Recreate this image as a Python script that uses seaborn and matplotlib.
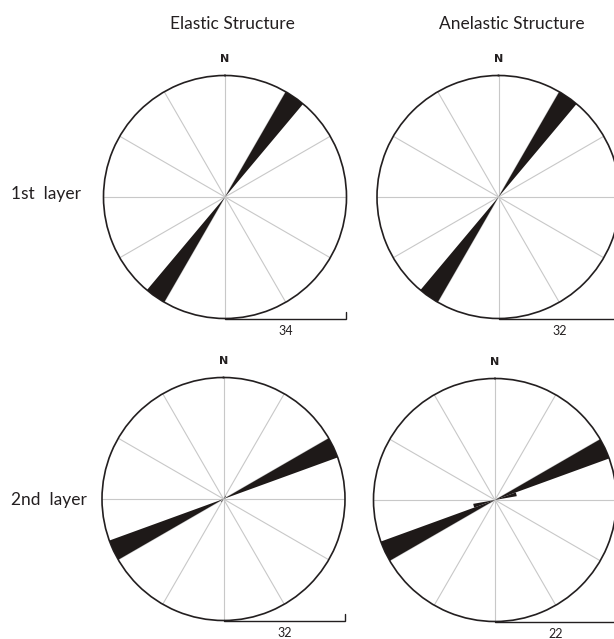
import numpy as np
import pandas as pd
import matplotlib
matplotlib.use("Agg")
import matplotlib.pyplot as plt
import seaborn as sns

# Strike bins (lower edge, degrees, 10 deg wide) over half a circle;
# the rose is bidirectional, so each bin is mirrored through the centre.
bin_start = [0, 10, 20, 30, 40, 50, 60, 70, 80, 90, 100, 110, 120, 130, 140, 150, 160, 170]

elastic_layer1 = [0, 0, 0, 34, 0, 0, 0, 0, 0, 0, 0, 0, 0, 0, 0, 0, 0, 0]
anelastic_layer1 = [0, 0, 0, 32, 0, 0, 0, 0, 0, 0, 0, 0, 0, 0, 0, 0, 0, 0]
elastic_layer2 = [0, 0, 0, 1, 0, 0, 32, 0, 0, 0, 0, 0, 0, 0, 0, 0, 0, 0]
anelastic_layer2 = [0, 0, 0, 0, 0, 0, 22, 4, 0, 0, 0, 0, 0, 0, 0, 0, 0, 0]

structures = ["Elastic Structure", "Anelastic Structure"]
layers = ["1st  layer", "2nd  layer"]

panels = {
    (layers[0], structures[0]): elastic_layer1,
    (layers[0], structures[1]): anelastic_layer1,
    (layers[1], structures[0]): elastic_layer2,
    (layers[1], structures[1]): anelastic_layer2,
}

rows = []
for (layer, structure), counts in panels.items():
    for start, n in zip(bin_start, counts):
        for strike in (start, start + 180):
            rows.append({"layer": layer, "structure": structure,
                         "strike": strike, "count": n})
df = pd.DataFrame(rows)

WEDGE = "#1e1918"
INK = "#231f20"
SPOKE = "#c8c8c8"

sns.set_style("white")
plt.rcParams["font.family"] = ["Lato", "DejaVu Sans"]


def rose(data, **kws):
    ax = plt.gca()
    ax.set_theta_zero_location("N")
    ax.set_theta_direction(-1)
    ax.set_axisbelow(True)
    ax.bar(np.deg2rad(data["strike"].to_numpy()), data["count"].to_numpy(),
           width=np.deg2rad(10), align="edge", color=WEDGE,
           edgecolor="none", linewidth=0, zorder=3)
    rmax = data["count"].max()
    ax.set_ylim(0, rmax)
    ax.set_yticks([])
    ax.set_xticks(np.deg2rad(np.arange(0, 360, 30)))
    ax.set_xticklabels([])
    ax.grid(axis="x", color=SPOKE, linewidth=0.8)
    ax.grid(axis="y", visible=False)
    ax.spines["polar"].set_color(INK)
    ax.spines["polar"].set_linewidth(1.2)
    ax.set_facecolor("white")
    # north marker
    ax.text(0.5, 1.067, "N", transform=ax.transAxes, ha="center",
            va="center", fontsize=8, fontweight="bold", color=INK,
            family=["DejaVu Sans"])
    # scale bar: radius of the circle equals the maximum bin count
    ax.plot([0.5, 1.0, 1.0], [0.0, 0.0, 0.025], transform=ax.transAxes,
            color=INK, linewidth=1.0, clip_on=False, solid_joinstyle="miter")
    ax.text(0.75, -0.052, f"{rmax:g}", transform=ax.transAxes,
            ha="center", va="center", fontsize=9, color=INK)


g = sns.FacetGrid(df, row="layer", col="structure", row_order=layers,
                  col_order=structures, sharex=False, sharey=False,
                  despine=False, subplot_kws={"projection": "polar"})
g.map_dataframe(rose)
g.set_titles("")
for ax in g.axes.flat:
    ax.set_title("")
    ax.set_xlabel("")
    ax.set_ylabel("")

fig = g.figure
W, H = 614, 639
fig.set_size_inches(W / 100, H / 100)

# circle centres (px from top-left) and radius
centres = {(0, 0): (225, 197), (0, 1): (498.5, 197),
           (1, 0): (223.5, 499), (1, 1): (495, 500)}
R = 121.5
for (i, j), (cx, cy) in centres.items():
    ax = g.axes[i, j]
    ax.set_position([(cx - R) / W, (H - cy - R) / H, 2 * R / W, 2 * R / H])

fig.text(232 / W, 1 - 24 / H, structures[0], ha="center", va="center",
         fontsize=12.5, color=INK)
fig.text(512 / W, 1 - 24 / H, structures[1], ha="center", va="center",
         fontsize=12.5, color=INK)
fig.text(11 / W, 1 - 194 / H, layers[0], ha="left", va="center",
         fontsize=12.5, color=INK)
fig.text(11 / W, 1 - 500 / H, layers[1], ha="left", va="center",
         fontsize=12.5, color=INK)

fig.savefig("out.png", dpi=100, facecolor="white")
